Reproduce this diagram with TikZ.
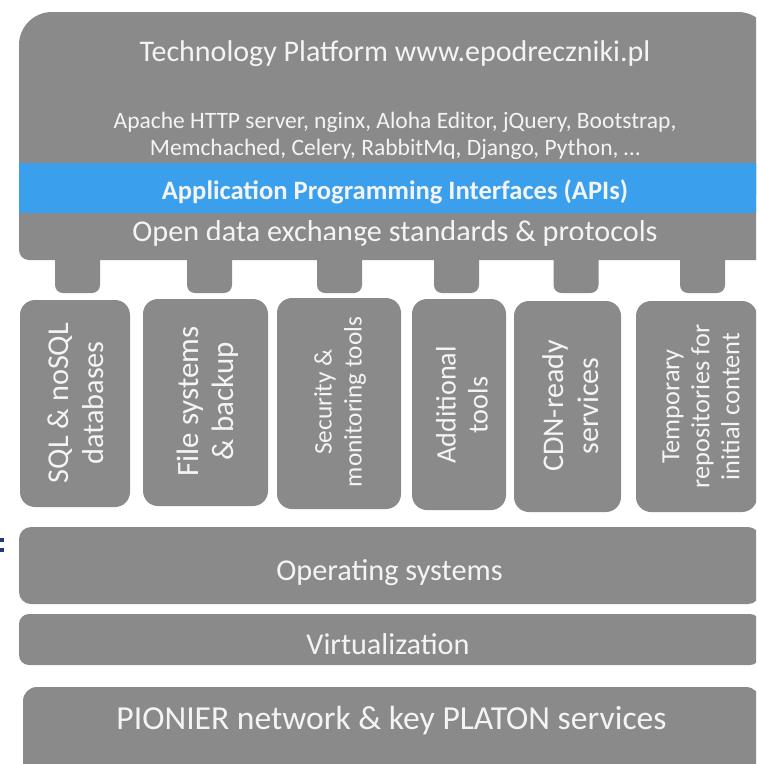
\documentclass[tikz,border=0pt]{standalone}
\usepackage{fontspec}
\setmainfont{Carlito}
\definecolor{boxgray}{RGB}{138,138,138}
\definecolor{apiblue}{RGB}{58,160,238}
\definecolor{txtwhite}{RGB}{244,244,244}
\definecolor{fragblue}{RGB}{30,60,125}
\tikzset{
  gbox/.style={fill=boxgray, draw=none},
  vbox/.style={gbox, rounded corners=15pt, inner sep=0pt},
  hbar/.style={gbox, inner sep=0pt},
  tab/.style={gbox, rounded corners=8pt},
  wtxt/.style={text=txtwhite, inner sep=0pt, align=center},
  vtxt/.style={wtxt, rotate=90},
}
\begin{document}
\begin{tikzpicture}[x=1pt,y=-1pt]
\useasboundingbox (0,0) rectangle (756,764);
\clip (0,0) rectangle (756,764);
\fill[white] (0,0) rectangle (756,764);

% top platform block
\fill[gbox, rounded corners=33pt] (19,12) rectangle (771,200);
\fill[gbox, rounded corners=10pt] (19,120) rectangle (771,260);
\coordinate (platform) at (395,136);
\fill[apiblue] (19,163) rectangle (771,213);

\node[wtxt, font=\fontsize{30}{34}\selectfont] (title) at (395,54) {Technology Platform www.epodreczniki.pl};
\node[wtxt, font=\fontsize{23.5}{27}\selectfont] (stack) at (395,135.5) {Apache HTTP server, nginx, Aloha Editor, jQuery, Bootstrap,\\Memchached, Celery, RabbitMq, Django, Python, \dots};
\node[wtxt, font=\fontsize{26.6}{30}\selectfont\bfseries] (api) at (395,192) {Application Programming Interfaces (APIs)};
\node[wtxt, font=\fontsize{30.2}{34}\selectfont] (open) at (395,233.5) {Open data exchange standards \& protocols};

% tabs
\foreach \cx/\nm in {77.5/t1,209.5/t2,339.5/t3,456.5/t4,576/t5,702.5/t6}{
  \fill[tab] (\cx-22.5,240) rectangle (\cx+22.5,293);
  \coordinate (\nm) at (\cx,293);
}

% vertical boxes
\node[vbox, minimum width=110pt, minimum height=207pt] (sql) at (75,403.5) {};
\node[vbox, minimum width=125pt, minimum height=207pt] (files) at (205.5,402.5) {};
\node[vbox, minimum width=124pt, minimum height=211pt] (sec) at (339,403.5) {};
\node[vbox, minimum width=94pt, minimum height=211pt] (add) at (459,404.5) {};
\node[vbox, minimum width=107pt, minimum height=211pt] (cdn) at (567.5,406.5) {};
\node[vbox, minimum width=121pt, minimum height=211pt] (temp) at (696.5,406.5) {};

\node[vtxt, font=\fontsize{30.3}{35}\selectfont] (sqlt) at (75.5,403) {SQL \& noSQL\\databases};
\node[vtxt, font=\fontsize{31}{35}\selectfont] (filest) at (207.5,401.5) {File systems\\\& backup};
\node[vtxt, font=\fontsize{25.3}{30}\selectfont] (sect) at (340,402) {Security \&\\monitoring tools};
\node[vtxt, font=\fontsize{28.2}{32}\selectfont] (addt) at (462,405) {Additional\\tools};
\node[vtxt, font=\fontsize{30}{35}\selectfont] (cdnt) at (570.5,406) {CDN-ready\\services};
\node[vtxt, font=\fontsize{26.3}{30}\selectfont] (tempt) at (701,406.5) {Temporary\\repositories for\\initial content};

% bottom bars
\node[hbar, rounded corners=12pt, minimum width=741pt, minimum height=77pt] (os) at (389.5,565.5) {};
\node[wtxt, font=\fontsize{30.3}{34}\selectfont] (ost) at (389.5,572.5) {Operating systems};
\node[hbar, rounded corners=10pt, minimum width=741pt, minimum height=51pt] (virt) at (389.5,639.5) {};
\node[wtxt, font=\fontsize{30.2}{34}\selectfont] (virtt) at (388,644) {Virtualization};
\node[hbar, rounded corners=14pt, minimum width=737pt, minimum height=93pt] (net) at (391.5,733.5) {};
\node[wtxt, font=\fontsize{33.6}{38}\selectfont] (nett) at (391.5,720.5) {PIONIER network \& key PLATON services};

% clipped fragment at left edge
\fill[fragblue] (0,538) rectangle (4,541.5);
\fill[fragblue] (0,548) rectangle (4,552);
\end{tikzpicture}
\end{document}
